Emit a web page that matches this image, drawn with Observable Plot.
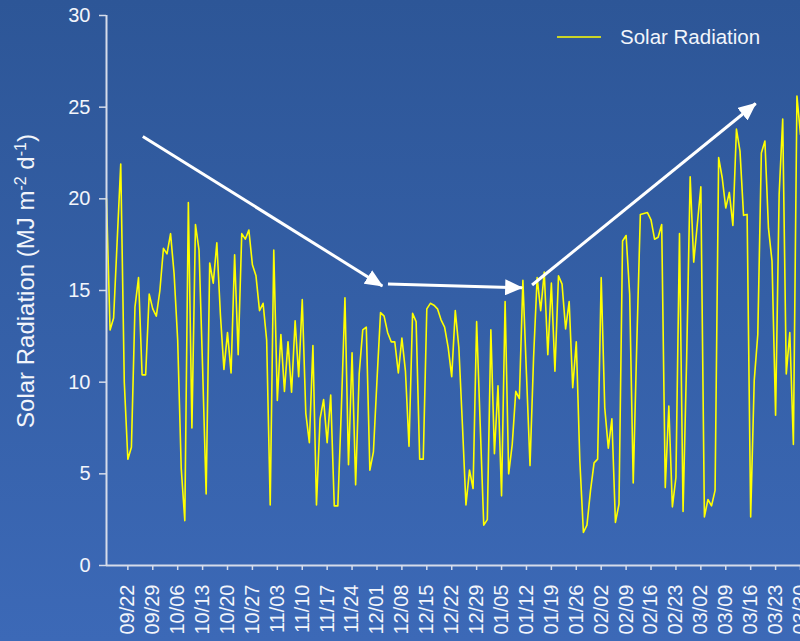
<!DOCTYPE html>
<html>
<head>
<meta charset="utf-8">
<script src="https://cdn.jsdelivr.net/npm/d3@7"></script>
<script src="https://cdn.jsdelivr.net/npm/@observablehq/plot@0.6"></script>
<style>
  html, body { margin: 0; padding: 0; width: 800px; height: 641px; overflow: hidden; }
  body { background: linear-gradient(to bottom, #2D5697 0%, #3C69B7 100%); font-family: "Liberation Sans", Arial, sans-serif; }
  #chart { position: relative; width: 800px; height: 641px; }
</style>
</head>
<body>
<div id="chart"></div>
<script>
// ---- data ----
const seriesName = "Solar Radiation";
const firstDay = "2006-09-16";   // first daily observation
const lastDay = "2007-03-30";
const solar = [
  20.0, 12.85, 13.5, 17.7, 21.9, 10.0, 5.8, 6.45, 14.1, 15.7,
  10.4, 10.4, 14.8, 14.0, 13.6, 15.0, 17.3, 17.0, 18.1, 15.9,
  12.3, 5.3, 2.45, 19.8, 7.5, 18.6, 17.2, 10.8, 3.9, 16.5,
  15.4, 17.6, 13.7, 10.7, 12.7, 10.5, 16.95, 11.5, 18.1, 17.8,
  18.3, 16.4, 15.8, 13.9, 14.3, 12.3, 3.3, 17.2, 9.0, 12.6,
  9.5, 12.2, 9.45, 13.35, 10.3, 14.5, 8.3, 6.7, 12.0, 3.3,
  8.0, 9.05, 6.7, 9.3, 3.25, 3.25, 8.6, 14.6, 5.5, 11.6,
  4.4, 10.45, 12.85, 13.0, 5.2, 6.2, 10.1, 13.8, 13.6, 12.7,
  12.2, 12.2, 10.5, 12.4, 10.6, 6.5, 13.75, 13.3, 5.8, 5.8,
  14.0, 14.3, 14.2, 14.0, 13.4, 13.0, 11.9, 10.3, 13.9, 11.9,
  7.7, 3.3, 5.2, 4.2, 13.3, 7.7, 2.2, 2.5, 12.85, 6.1,
  9.8, 3.8, 14.4, 5.0, 6.6, 9.5, 9.1, 15.55, 10.45, 5.45,
  11.35, 15.7, 13.9, 16.0, 11.5, 15.4, 10.6, 15.8, 15.35, 12.9,
  14.4, 9.7, 12.2, 5.7, 1.8, 2.2, 4.1, 5.6, 5.8, 15.7,
  8.6, 6.4, 8.0, 2.35, 3.35, 17.7, 18.0, 14.8, 4.5, 12.1,
  19.15, 19.2, 19.25, 18.85, 17.8, 17.9, 18.6, 4.25, 8.7, 3.2,
  4.8, 18.1, 2.95, 11.2, 21.2, 16.55, 18.6, 20.65, 2.65, 3.6,
  3.25, 4.1, 22.25, 21.15, 19.5, 20.35, 18.55, 23.8, 22.6, 19.1,
  19.15, 2.65, 10.1, 12.6, 22.5, 23.15, 18.4, 16.6, 8.2, 20.25,
  24.35, 10.45, 12.7, 6.6, 25.6, 23.5
];
const tickLabels = [
  "09/22", "09/29", "10/06", "10/13", "10/20", "10/27", "11/03", "11/10",
  "11/17", "11/24", "12/01", "12/08", "12/15", "12/22", "12/29", "01/05",
  "01/12", "01/19", "01/26", "02/02", "02/09", "02/16", "02/23", "03/02",
  "03/09", "03/16", "03/23", "03/30"
];
const yTicks = [0, 5, 10, 15, 20, 25, 30];
// annotation arrows (trend), in data coordinates
const arrowFromDate = ["2006-09-26T05:00", "2006-12-04T02:00", "2007-01-13T14:00"];
const arrowFromValue = [23.4, 15.35, 15.3];
const arrowToDate = ["2006-12-02T12:00", "2007-01-10T19:00", "2007-03-17T10:00"];
const arrowToValue = [15.25, 15.15, 25.2];

// ---- build tables ----
const day0 = new Date(firstDay + "T00:00Z");
const rows = solar.map((v, i) => ({ date: new Date(day0.getTime() + i * 86400000), value: v }));
const tickDates = tickLabels.map(s => {
  const [m, d] = s.split("/").map(Number);
  return new Date(Date.UTC(m >= 9 ? 2006 : 2007, m - 1, d));
});
const arrows = arrowFromDate.map((d, i) => ({
  x1: new Date(d + "Z"), y1: arrowFromValue[i],
  x2: new Date(arrowToDate[i] + "Z"), y2: arrowToValue[i]
}));

const axisColor = "#D6DCEA";
const textColor = "#F2F5FB";

const chart = Plot.plot({
  width: 800,
  height: 641,
  marginTop: 15,
  marginBottom: 76,
  marginLeft: 106,
  marginRight: 0,
  style: {
    background: "transparent",
    color: textColor,
    fontFamily: "'Liberation Sans', Arial, sans-serif",
    fontSize: "20px",
    overflow: "visible"
  },
  x: {
    type: "utc",
    domain: [day0, new Date(lastDay + "T00:00Z")],
    ticks: tickDates,
    tickFormat: d3.utcFormat("%m/%d"),
    tickRotate: -90,
    tickSize: 5,
    tickPadding: 14,
    label: null
  },
  y: {
    domain: [0, 30],
    ticks: yTicks,
    tickSize: 7,
    tickPadding: 9,
    label: null
  },
  marks: [
    Plot.line(rows, { x: "date", y: "value", stroke: "#FFFF00", strokeWidth: 1.6 }),
    Plot.link(arrows, { x1: "x1", y1: "y1", x2: "x2", y2: "y2", stroke: "white", strokeWidth: 3 }),
    Plot.ruleX([day0], { stroke: axisColor, strokeWidth: 2 }),
    Plot.ruleY([0], { stroke: axisColor, strokeWidth: 2 })
  ]
});

document.getElementById("chart").appendChild(chart);

const svg = d3.select(chart);
// filled arrow heads
const defs = svg.insert("defs", ":first-child");
defs.append("marker")
  .attr("id", "arrowhead")
  .attr("markerUnits", "userSpaceOnUse")
  .attr("viewBox", "0 0 18 16")
  .attr("markerWidth", 18)
  .attr("markerHeight", 16)
  .attr("refX", 17)
  .attr("refY", 8)
  .attr("orient", "auto")
  .append("path")
  .attr("d", "M0,0L18,8L0,16Z")
  .attr("fill", "white");
svg.selectAll('g[aria-label="link"] path').attr("marker-end", "url(#arrowhead)");
// axis tick colours
svg.selectAll('g[aria-label="x-axis tick"] path, g[aria-label="y-axis tick"] path, g[aria-label="x-axis"] line, g[aria-label="y-axis"] line')
  .attr("stroke", axisColor).attr("stroke-width", 1.5);

// y-axis title with superscripts
const title = svg.append("text")
  .attr("transform", "translate(34,281) rotate(-90)")
  .attr("text-anchor", "middle")
  .attr("fill", textColor)
  .attr("font-size", 24);
title.append("tspan").text("Solar Radiation (MJ m");
title.append("tspan").attr("font-size", 16).attr("baseline-shift", "super").text("-2");
title.append("tspan").text(" d");
title.append("tspan").attr("font-size", 16).attr("baseline-shift", "super").text("-1");
title.append("tspan").text(")");

// legend
const lg = svg.append("g");
lg.append("line").attr("x1", 557).attr("x2", 601).attr("y1", 37).attr("y2", 37)
  .attr("stroke", "#FFFF00").attr("stroke-width", 1.6);
lg.append("text").attr("x", 620).attr("y", 44).attr("fill", textColor)
  .attr("text-anchor", "start")
  .attr("font-size", 20.5).text(seriesName);
</script>
</body>
</html>
